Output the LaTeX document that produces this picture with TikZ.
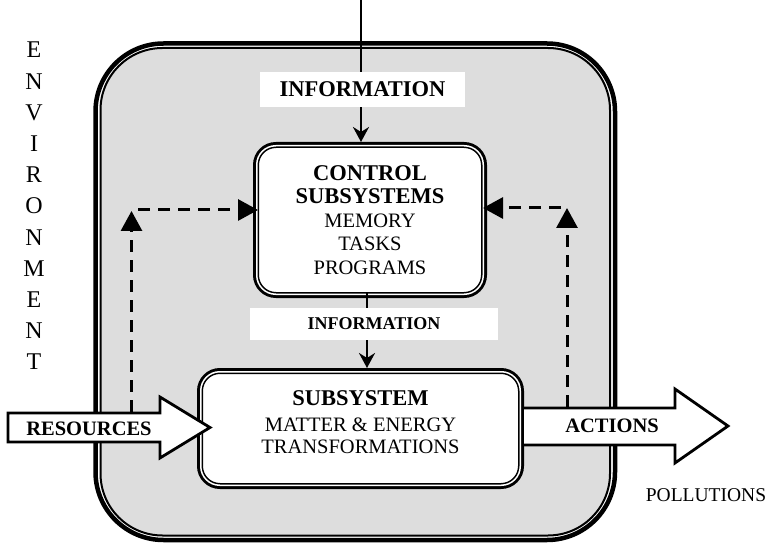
\documentclass[tikz,border=0pt]{standalone}
\usepackage{fontspec}
\setmainfont{Liberation Serif}
\usetikzlibrary{arrows.meta}
\definecolor{panelgray}{HTML}{DDDDDD}
\newcommand\boxhead[1]{{\bfseries\fontsize{22.5}{24}\selectfont #1}}
\begin{document}
\begin{tikzpicture}[x=1pt,y=-1pt,
  boxline/.style={draw=black, line width=6pt, fill=white, rounded corners=20pt,
    outer sep=0pt, inner sep=0pt, align=center},
  boxgap/.style={draw=white, line width=1.5pt},
  band/.style={fill=white, inner sep=0pt, font=\bfseries\fontsize{22.5}{24}\selectfont},
  infoline/.style={line width=2.4pt},
  infoarrow/.style={line width=2.4pt, -{Stealth[length=15pt,width=16pt,inset=5pt]}},
  feedback/.style={line width=3pt, dash pattern=on 12pt off 8pt,
    -{Triangle[length=20pt,width=21pt]}},
  blockarrow/.style={draw=black, line width=2.8pt, fill=white, line join=miter},
  arrowtext/.style={font=\bfseries\fontsize{20.5}{22}\selectfont, inner sep=0pt},
]
\useasboundingbox (0,0) rectangle (773,545);

% system boundary: heavy outer line, thin inner line, shaded interior
\fill[panelgray, rounded corners=62pt] (100.5,48) rectangle (610,535.5);
\draw[line width=4.5pt, rounded corners=68pt] (95.5,43.5) rectangle (615,540);
\draw[line width=2pt, rounded corners=62pt] (100.5,48) rectangle (610,535.5);

% environment label
\node[font=\fontsize{24}{31.2}\selectfont, align=center, inner sep=0pt] (env) at (34,206)
  {E\\N\\V\\I\\R\\O\\N\\M\\E\\N\\T};

% control subsystem
\node[boxline, minimum width=228pt, minimum height=150pt,
  font=\fontsize{20.5}{23.5}\selectfont] (ctl) at (370,220)
  {\boxhead{CONTROL}\\\boxhead{SUBSYSTEMS}\\MEMORY\\TASKS\\PROGRAMS};
\draw[boxgap, rounded corners=19pt] ([shift={(0.75,0.75)}]ctl.north west)
  rectangle ([shift={(-0.75,-0.75)}]ctl.south east);

% matter and energy subsystem
\node[boxline, minimum width=321pt, minimum height=115pt,
  font=\fontsize{20.5}{22}\selectfont] (sub) at (360.5,428.5)
  {\boxhead{SUBSYSTEM}\\[4pt]MATTER \& ENERGY\\TRANSFORMATIONS\\[-10pt]};
\draw[boxgap, rounded corners=19pt] ([shift={(0.75,0.75)}]sub.north west)
  rectangle ([shift={(-0.75,-0.75)}]sub.south east);

% information labels
\node[band, minimum width=205pt, minimum height=35pt] (info1) at (362.5,89.5) {INFORMATION};
\node[band, minimum width=248pt, minimum height=32pt,
  font=\bfseries\fontsize{18}{20}\selectfont] (info2) at (374,324) {INFORMATION};

% information flows
\coordinate (feed) at (361,0);
\coordinate (mid) at (367,0);
\draw[infoline] (feed) -- (info1.north -| feed);
\draw[infoarrow, shorten >=3pt] (info1.south -| feed) -- (ctl.north -| feed);
\draw[infoline] ([yshift=3pt]ctl.south -| mid) -- (info2.north -| mid);
\draw[infoarrow, shorten >=3pt] (info2.south -| mid) -- (sub.north -| mid);

% resources entering the system
\coordinate (restip) at (210,427.5);
\filldraw[blockarrow] (8,413) -- (160,413) -- (160,397) -- (restip)
  -- (160,458) -- (160,442) -- (8,442) -- cycle;
\node[arrowtext] (res) at (89,429) {RESOURCES};

% actions leaving the system
\coordinate (acttip) at (728,426);
\filldraw[blockarrow] (sub.east |- 0,408) ++(3,0) -- (675,408) -- (675,389) -- (acttip)
  -- (675,463) -- (675,445) -- ([xshift=3pt]sub.east |- 0,445);
\node[arrowtext] (act) at (612,426) {ACTIONS};
\node[font=\fontsize{19.5}{21}\selectfont, inner sep=0pt] (poll) at (706,495) {POLLUTIONS};

% feedback to the control subsystem
\coordinate (lbase) at (131.5,411.6);
\coordinate (lturn) at (131.5,211);
\coordinate (lstart) at (138,210);
\draw[feedback] (lbase) -- (lturn);
\draw[feedback] (lstart) -- ([xshift=2pt]ctl.west |- lstart);

\coordinate (rbase) at (567,406.6);
\coordinate (rturn) at (567,208);
\coordinate (rstart) at (561,208);
\draw[feedback] (rbase) -- (rturn);
\draw[feedback] (rstart) -- ([xshift=-1pt]ctl.east |- rstart);
\end{tikzpicture}
\end{document}
